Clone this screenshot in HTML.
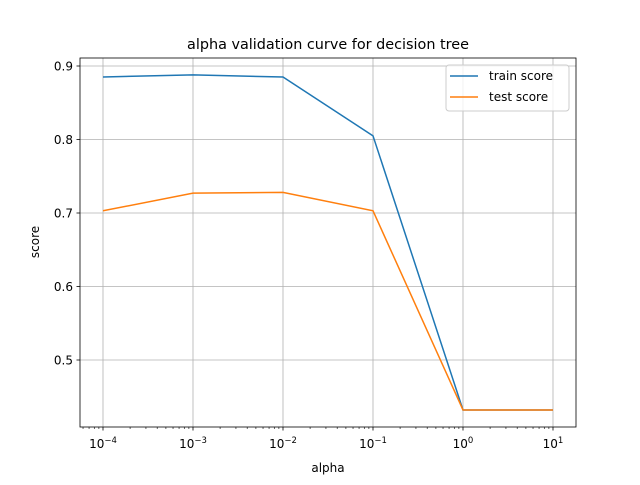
<!DOCTYPE html>
<html><head><meta charset="utf-8"><style>
body{margin:0;background:#fff;}
svg text{font-family:"DejaVu Sans","Liberation Sans",sans-serif;fill:#000;}
</style></head><body>
<svg id="chart" width="640" height="480" xmlns="http://www.w3.org/2000/svg">
<rect width="640" height="480" fill="#fff"/>
<text x="328" y="49" font-size="14.4" text-anchor="middle">alpha validation curve for decision tree</text>
<g id="grid"></g>
<g id="ticks"></g>
<g id="lines"></g>
<rect x="80" y="58" width="496" height="369" fill="none" stroke="#000" stroke-width="0.8"/>
<text x="328" y="472" font-size="12" text-anchor="middle">alpha</text>
<text x="0" y="0" font-size="12" text-anchor="middle" transform="translate(39,242) rotate(-90)">score</text>
<g>
<rect x="446" y="65" width="123" height="46" rx="3" fill="#fff" fill-opacity="0.8" stroke="#ccc"/>
<line x1="450" y1="76" x2="478" y2="76" stroke="#1f77b4" stroke-width="1.5"/>
<text x="489" y="80" font-size="12">train score</text>
<line x1="450" y1="97" x2="478" y2="97" stroke="#ff7f0e" stroke-width="1.5"/>
<text x="489" y="101" font-size="12">test score</text>
</g>
</svg>
<script>
const exponents=[-4,-3,-2,-1,0,1];
const trainScores=[0.885,0.888,0.885,0.805,0.432,0.432];
const testScores=[0.703,0.727,0.728,0.703,0.432,0.432];
const yTicks=[0.5,0.6,0.7,0.8,0.9];
const yTickLabels=["0.5","0.6","0.7","0.8","0.9"];
const NS="http://www.w3.org/2000/svg";
function xs(e){return 103+(e+4)*90;}
function ys(v){return 66+(0.9-v)*735;}
function mk(t,a,p){const el=document.createElementNS(NS,t);for(const k in a)el.setAttribute(k,a[k]);p.appendChild(el);return el;}
const grid=document.getElementById('grid'),ticks=document.getElementById('ticks'),lines=document.getElementById('lines');
exponents.forEach(e=>{
 const x=xs(e);
 const g=mk('line',{x1:x,x2:x,y1:58,y2:427,stroke:'#b0b0b0','stroke-width':0.8},grid);
 
 
 mk('line',{x1:x,x2:x,y1:427,y2:430.5,stroke:'#000','stroke-width':0.8},ticks);
 const t=mk('text',{x:x,y:448,'font-size':12,'text-anchor':'middle'},ticks);
 
 
 t.textContent='10';
 const s=mk('tspan',{dy:-5,'font-size':8.5},t);s.textContent=(e<0?'\u2212'+(-e):String(e));
 if(e<1){for(let k=2;k<10;k++){const mx=x+Math.log10(k)*90;mk('line',{x1:mx,x2:mx,y1:427,y2:429,stroke:'#000','stroke-width':0.6},ticks);}}
});
[-5].forEach(e=>{for(let k=5;k<10;k++){const mx=xs(e)+Math.log10(k)*90;if(mx>80)mk('line',{x1:mx,x2:mx,y1:427,y2:429,stroke:'#000','stroke-width':0.6},ticks);}});
[1].forEach(e=>{for(let k=2;k<3;k++){const mx=xs(e)+Math.log10(k)*90;if(mx<576)mk('line',{x1:mx,x2:mx,y1:427,y2:429,stroke:'#000','stroke-width':0.6},ticks);}});
yTicks.forEach((v,i)=>{
 const y=ys(v);
 const g=mk('line',{x1:80,x2:576,y1:y,y2:y,stroke:'#b0b0b0','stroke-width':0.8},grid);
 
 
 mk('line',{x1:76.5,x2:80,y1:y,y2:y,stroke:'#000','stroke-width':0.8},ticks);
 const t=mk('text',{x:73,y:y+4.5,'font-size':12,'text-anchor':'end'},ticks);
 
 
 t.textContent=yTickLabels[i];
});
function series(vals,color,name){
 const pts=exponents.map((e,i)=>xs(e)+','+ys(vals[i])).join(' ');
 const p=mk('polyline',{points:pts,fill:'none',stroke:color,'stroke-width':1.5},lines);
 
 
}
series(trainScores,'#1f77b4','train-score-line');
series(testScores,'#ff7f0e','test-score-line');
</script>
</body></html>
